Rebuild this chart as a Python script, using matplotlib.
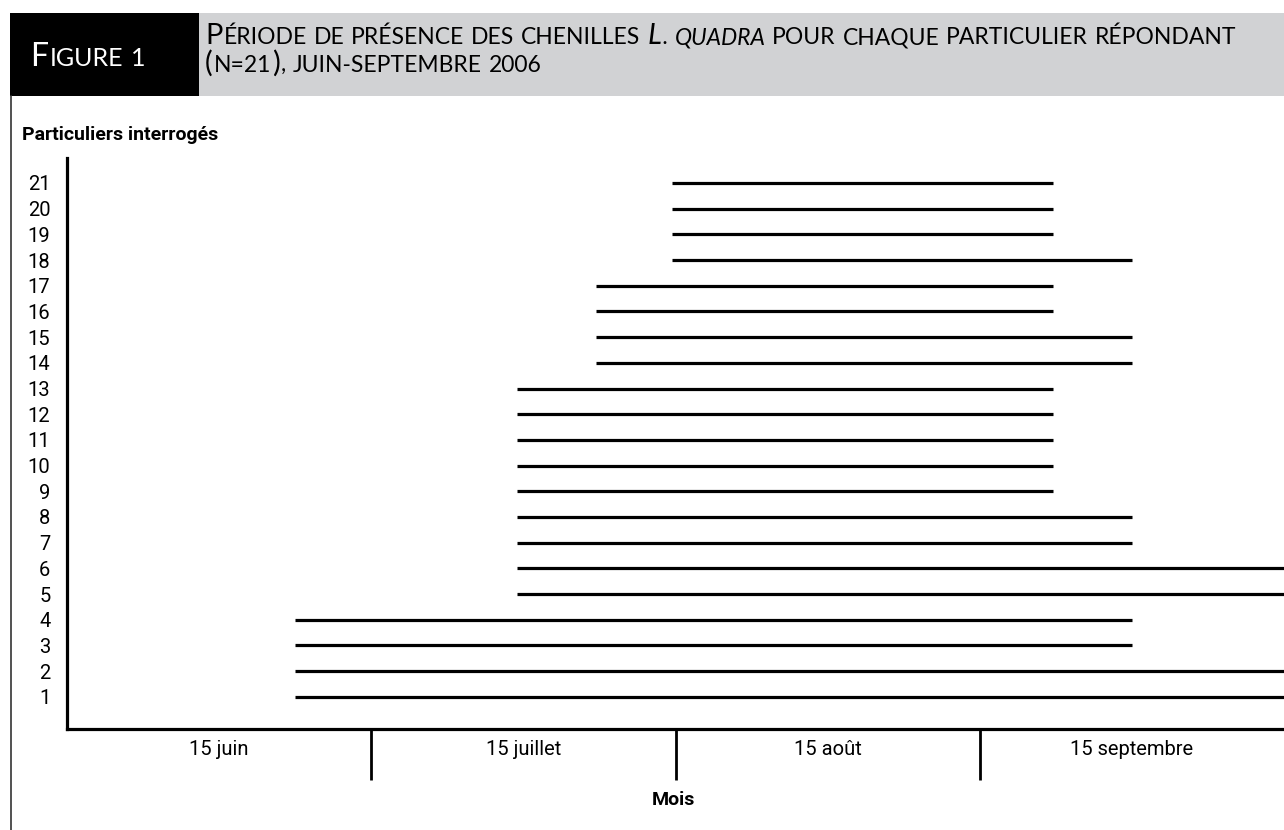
import matplotlib
matplotlib.use("Agg")
import matplotlib.pyplot as plt
from matplotlib.patches import Rectangle
from matplotlib.lines import Line2D

W, H = 1284, 830

# particuliers 1..21, début et fin de présence (en mois depuis le 1er juin)
particuliers = list(range(1, 22))
debut = [0.75, 0.75, 0.75, 0.75, 1.48, 1.48, 1.48, 1.48, 1.48, 1.48, 1.48, 1.48, 1.48,
         1.74, 1.74, 1.74, 1.74, 1.99, 1.99, 1.99, 1.99]
fin = [4.0, 4.0, 3.5, 3.5, 4.0, 4.0, 3.5, 3.5, 3.24, 3.24, 3.24, 3.24, 3.24,
       3.5, 3.5, 3.24, 3.24, 3.5, 3.24, 3.24, 3.24]

mois_pos = [0.5, 1.5, 2.5, 3.5]
mois_labels = ["15 juin", "15 juillet", "15 août", "15 septembre"]
limites_mois = [1, 2, 3]

police = ["Roboto", "DejaVu Sans"]
police_titre = ["Lato", "DejaVu Sans"]

fig = plt.figure(figsize=(W / 100, H / 100), dpi=100)
renderer = fig.canvas.get_renderer()


def px(x, y):
    # pixels (origine en haut à gauche) -> fraction de figure
    return x / W, 1 - y / H


def largeur(t):
    return t.get_window_extent(renderer).width


def petites_capitales(x, y, morceaux, grand, petit, couleur, interlettre=1.0):
    # morceaux : liste de (texte, italique)
    a = fig.text(0, 0, "N N", fontsize=petit, family=police_titre)
    b = fig.text(0, 0, "NN", fontsize=petit, family=police_titre)
    espace = largeur(a) - largeur(b)
    a.remove()
    b.remove()
    for texte, italique in morceaux:
        # découpe en séquences de même taille
        runs = []
        for c in texte:
            if c == " ":
                runs.append((" ", petit))
                continue
            taille = grand if (c.isupper() or c in "()") else petit
            if runs and runs[-1][1] == taille and runs[-1][0] != " ":
                runs[-1] = (runs[-1][0] + c.upper(), taille)
            else:
                runs.append((c.upper(), taille))
        for s, taille in runs:
            if s == " ":
                x += espace
                continue
            t = fig.text(*px(x, y), s, fontsize=taille, family=police_titre,
                         style="italic" if italique else "normal",
                         color=couleur, va="baseline", ha="left")
            x += largeur(t) + interlettre


# bandeau de titre
fig.add_artist(Rectangle(px(10, 96), 189 / W, 83 / H, transform=fig.transFigure,
                         facecolor="black", edgecolor="none"))
fig.add_artist(Rectangle(px(199, 96), (W - 199) / W, 83 / H, transform=fig.transFigure,
                         facecolor="#d1d2d4", edgecolor="none"))
fig.add_artist(Line2D([11 / W, 11 / W], [1 - 96 / H, 0], transform=fig.transFigure,
                      color="#333333", lw=1.2))

petites_capitales(30, 66, [("Figure 1", False)], 23, 18, "white", 1.5)
petites_capitales(205, 44, [("Période de présence des chenilles ", False),
                            ("L. quadra", True),
                            (" pour chaque particulier répondant", False)], 21, 16.5, "black")
petites_capitales(205, 72, [("(n=21), juin-septembre 2006", False)], 21, 16.5, "black")

# graphique
ax = fig.add_axes([67 / W, (H - 729) / H, (W - 67) / W, (729 - 158) / H])
ax.hlines(particuliers, debut, fin, color="black", lw=2.3)
ax.set_xlim(0, 4)
ax.set_ylim(-0.25, 21.97)

for s in ["top", "right"]:
    ax.spines[s].set_visible(False)
for s in ["left", "bottom"]:
    ax.spines[s].set_linewidth(2.3)

ax.set_xticks(limites_mois)
ax.set_xticklabels([])
ax.tick_params(axis="x", which="major", length=37, width=2, direction="out")
ax.set_xticks(mois_pos, minor=True)
ax.set_xticklabels(mois_labels, minor=True, fontsize=14.5, family=police)
ax.tick_params(axis="x", which="minor", length=0, pad=8)

ax.set_yticks(particuliers)
ax.set_yticklabels([str(p) for p in particuliers], fontsize=14.5, family=police)
ax.tick_params(axis="y", length=0, pad=12)

fig.text(*px(22, 135), "Particuliers interrogés", fontsize=14, family=police,
         weight="bold", va="center", ha="left")
fig.text(*px(673, 800), "Mois", fontsize=14, family=police,
         weight="bold", va="center", ha="center")

fig.savefig("out.png", dpi=100)
